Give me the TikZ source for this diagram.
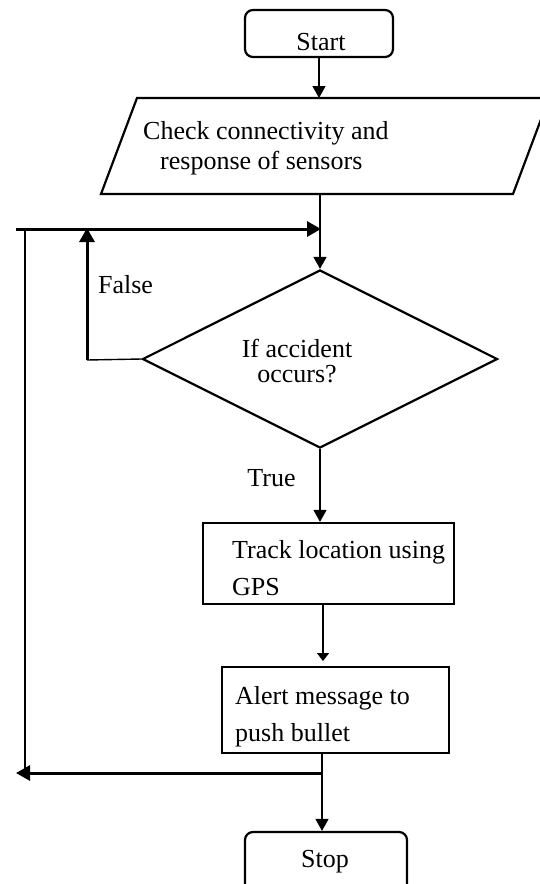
\documentclass[tikz,border=0pt]{standalone}
\usepackage{fontspec}
\setmainfont{Liberation Serif}
\usetikzlibrary{arrows.meta,shapes.geometric}
\begin{document}
\begin{tikzpicture}[x=1pt,y=-1pt,
  box/.style={draw, line width=2.2pt, inner sep=0pt},
  thinln/.style={line width=1.4pt},
  thickln/.style={line width=3pt},
  tip/.style={-{Triangle[length=12pt,width=13pt]}},
  bigtip/.style={-{Triangle[length=14pt,width=15pt]}},
  smalltip/.style={-{Triangle[length=8pt,width=12pt]}},
  txt/.style={font=\fontsize{26}{37}\selectfont, inner sep=0pt, align=left}
]
\useasboundingbox (0,0) rectangle (540,884);

% column coordinates
\coordinate (c323) at (323,0);
\coordinate (c322) at (322,0);

% Start
\node[box, rounded corners=8pt, minimum width=148pt, minimum height=47pt] (start) at (319,33.5) {};
\node[txt] (starttxt) at (321,42) {Start};

% Input parallelogram
\draw[line width=2.2pt] (101,194) -- (137,98) -- (549,98) -- (513,194) -- cycle;
\coordinate (paraT) at (319,98);
\coordinate (paraB) at (320,194);
\node[txt, anchor=west, font=\fontsize{26}{30}\selectfont] (paratxt) at (143,148)
  {Check connectivity and\\\hspace*{17pt}response of sensors};

% Decision
\node[box, diamond, minimum width=355pt, minimum height=178pt] (dia) at (320,359) {};
\node[txt, align=center, font=\fontsize{26}{25}\selectfont] (diatxt) at (297,361) {If accident\\occurs?};

% Track box
\node[box, minimum width=251pt, minimum height=81pt] (track) at (328.5,563.5) {};
\node[txt, anchor=west] (tracktxt) at (232,568.5) {Track location using\\GPS};

% Alert box
\node[box, minimum width=227pt, minimum height=86pt] (alert) at (335.5,710) {};
\node[txt, anchor=west] (alerttxt) at (235,716.5) {Alert message to\\push bullet};

% Stop
\node[box, rounded corners=8pt, minimum width=162pt, minimum height=64pt] (stop) at (326,864) {};
\node[txt] (stoptxt) at (325,862) {Stop};

% Labels
\node[txt] (falsetxt) at (125.5,285) {False};
\node[txt] (truetxt) at (271.5,478) {True};

% Loop coordinates
\coordinate (topL) at (16,229);
\coordinate (topR) at (321,229);
\coordinate (leftTop) at (25,229);
\coordinate (leftBot) at (25,773);
\coordinate (falseB) at (87,360);
\coordinate (falseT) at (87,228);
\coordinate (br) at (322,773);
\coordinate (brL) at (16,773);
\coordinate (alertIn) at (323,661);

% Connectors
\draw[thinln, tip] (start.south) -- (paraT);
\draw[thinln, tip] (paraB) -- (dia.north);
\draw[thickln, bigtip] (topL) -- (topR);
\draw[thinln] (leftTop) -- (leftBot);
\draw[thinln] (dia.west) -- (falseB);
\draw[thickln, bigtip] (falseB) -- (falseT);
\draw[thinln, tip] (dia.south) -- (dia.south |- track.north);
\draw[thinln, smalltip] (track.south -| c323) -- (alertIn);
\draw[thinln, tip] (alert.south -| c322) -- (stop.north -| c322);
\draw[thickln, bigtip] (br) -- (brL);
\end{tikzpicture}
\end{document}
